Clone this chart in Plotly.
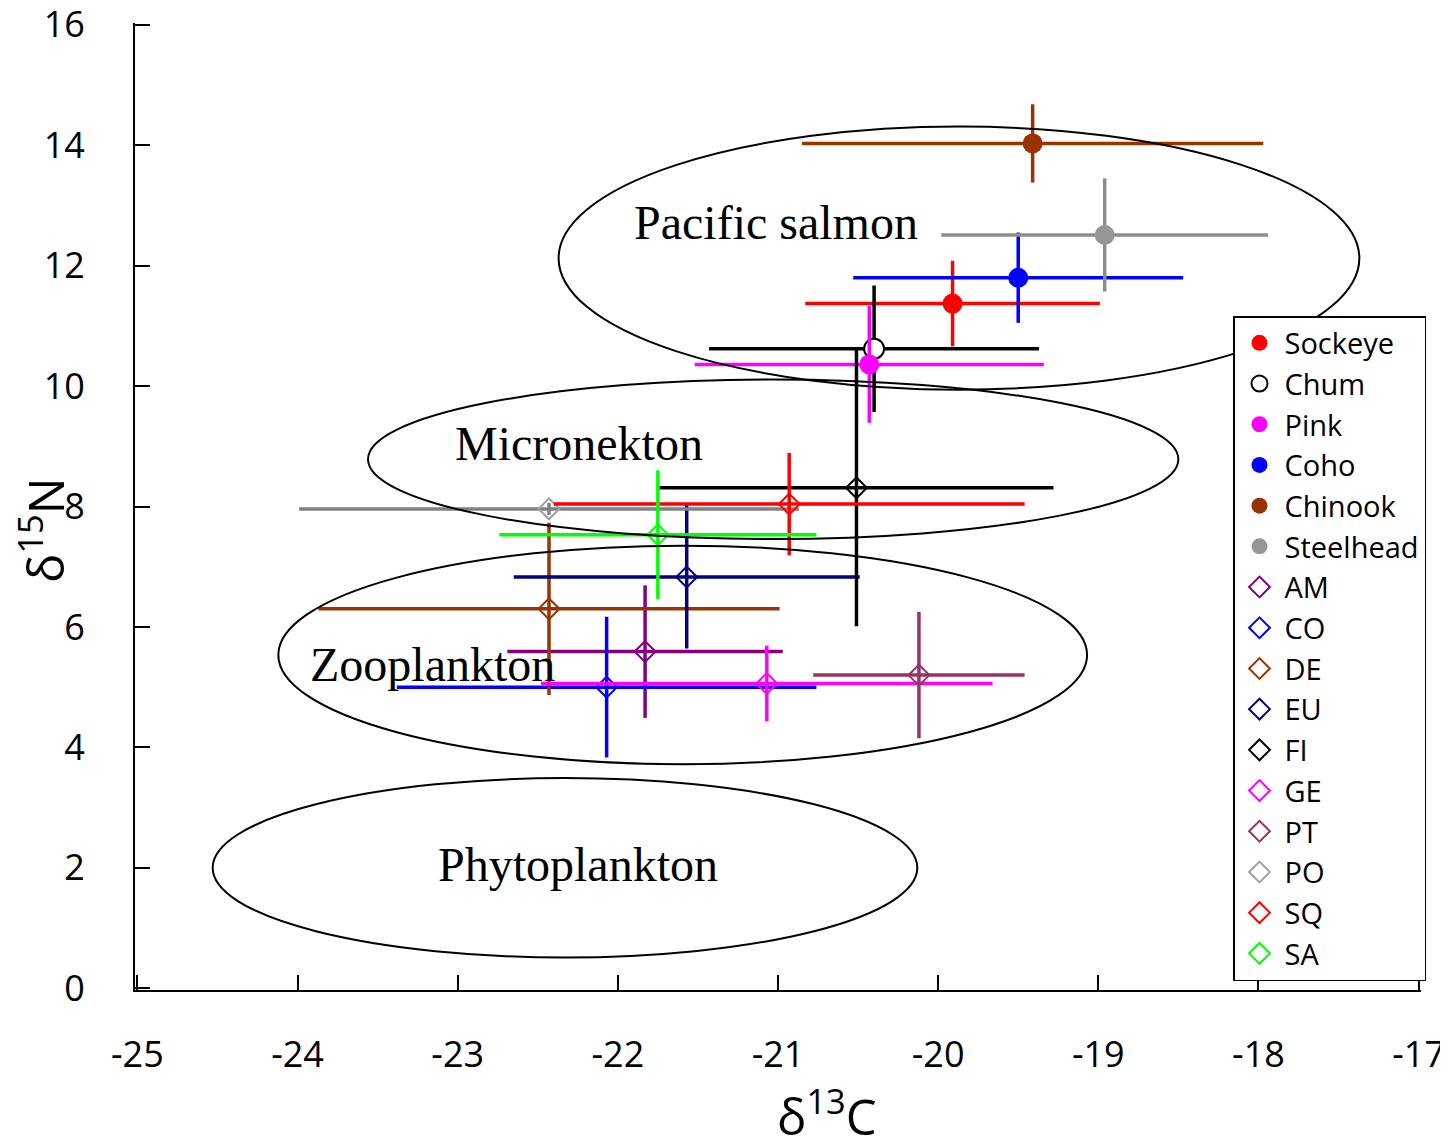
import plotly.graph_objects as go

# ---- data ----
groups = ["Sockeye", "Chum", "Pink", "Coho", "Chinook", "Steelhead",
          "AM", "CO", "DE", "EU", "FI", "GE", "PT", "PO", "SQ", "SA"]
d13c = [-19.91, -20.40, -20.43, -19.50, -19.41, -18.96,
        -21.83, -22.07, -22.43, -21.57, -20.51, -21.07, -20.12, -22.43, -20.93, -21.75]
d15n = [11.37, 10.62, 10.36, 11.80, 14.03, 12.51,
        5.59, 5.00, 6.30, 6.83, 8.31, 5.06, 5.20, 7.96, 8.04, 7.53]
sd13c = [0.92, 1.03, 1.09, 1.03, 1.44, 1.02,
         0.86, 1.31, 1.44, 1.08, 1.23, 1.41, 0.66, 1.56, 1.47, 0.99]
sd15n = [0.71, 1.05, 0.97, 0.75, 0.65, 0.94,
         1.10, 1.17, 1.43, 1.19, 2.30, 0.63, 1.05, 0.10, 0.85, 1.07]
is_salmon = [True] * 6 + [False] * 10

colors = ["#FF0000", "#000000", "#FF00FF", "#0000FF", "#993300", "#969696",
          "#800080", "#0000FF", "#993300", "#000080", "#000000", "#FF00FF",
          "#993366", "#A0A0A0", "#FF0000", "#00FF00"]
bar_colors = ["#FF0000", "#000000", "#FF00FF", "#0000FF", "#993300", "#8C8C8C",
              "#800080", "#0000FF", "#993300", "#000080", "#000000", "#FF00FF",
              "#993366", "#808080", "#FF0000", "#00FF00"]

zones = ["Pacific salmon", "Micronekton", "Zooplankton", "Phytoplankton"]
zone_x0 = [-22.37, -23.56, -24.12, -24.53]
zone_x1 = [-17.37, -18.50, -19.07, -20.13]
zone_y0 = [9.94, 7.46, 3.72, 0.51]
zone_y1 = [14.31, 10.11, 7.35, 3.49]
zone_lx = [-21.01, -22.24, -23.16, -22.25]
zone_ly = [12.71, 9.05, 5.38, 2.05]

x_ticks = [-25, -24, -23, -22, -21, -20, -19, -18, -17]
y_ticks = [0, 2, 4, 6, 8, 10, 12, 14, 16]

SANS = "Open Sans, Lato, sans-serif"

fig = go.Figure()

for i, g in enumerate(groups):
    if is_salmon[i]:
        fill = "#FFFFFF" if g == "Chum" else colors[i]
        marker = dict(symbol="circle", size=20, color=fill,
                      line=dict(color=colors[i], width=2 if g == "Chum" else 0))
    else:
        marker = dict(symbol="diamond-open", size=16, color=colors[i],
                      line=dict(color=colors[i], width=2))
    fig.add_trace(go.Scatter(
        x=[d13c[i]], y=[d15n[i]], mode="markers", name=g,
        marker=marker,
        error_x=dict(type="data", array=[sd13c[i]], color=bar_colors[i],
                     thickness=3.5, width=0),
        error_y=dict(type="data", array=[sd15n[i]], color=bar_colors[i],
                     thickness=3.5, width=0),
    ))

for i, z in enumerate(zones):
    fig.add_shape(type="circle", xref="x", yref="y",
                  x0=zone_x0[i], x1=zone_x1[i], y0=zone_y0[i], y1=zone_y1[i],
                  line=dict(color="black", width=2), layer="above")
    fig.add_annotation(x=zone_lx[i], y=zone_ly[i], text=z, showarrow=False,
                       font=dict(family="Liberation Serif", size=48, color="black"))

# axis titles as paper annotations
fig.add_annotation(xref="paper", yref="paper", x=(827 - 135) / 1286, y=(990 - 1113) / 967,
                   text="δ<sup>13</sup>C", showarrow=False, xanchor="center", yanchor="middle",
                   font=dict(family=SANS, size=49, color="black"))
fig.add_annotation(xref="paper", yref="paper", x=(42 - 135) / 1286, y=(990 - 530) / 967,
                   text="δ<sup>15</sup>N", showarrow=False, xanchor="center", yanchor="middle",
                   textangle=-90, font=dict(family=SANS, size=49, color="black"))

tick_font = dict(family=SANS, size=36, color="black")

# the page body adds an 8 px offset, so the figure is 8 px smaller and margins shifted
fig.update_layout(
    width=1440, height=1131,
    paper_bgcolor="white", plot_bgcolor="white",
    margin=dict(l=127, r=27, t=15, b=149, autoexpand=False),
    showlegend=True,
    legend=dict(x=(1233 - 135) / 1286, y=(990 - 316) / 967, xanchor="left", yanchor="top",
                bgcolor="white", bordercolor="black", borderwidth=1.5,
                font=dict(family=SANS, size=29, color="black"),
                itemwidth=40, tracegroupgap=0, itemsizing="trace"),
    xaxis=dict(range=[-25.015, -16.985], tickvals=x_ticks, ticktext=[str(v) for v in x_ticks],
               showgrid=False, zeroline=False, showline=True, linecolor="black",
               linewidth=2, ticks="inside", ticklen=15, tickwidth=1.5, tickcolor="black",
               tickfont=tick_font, ticklabelstandoff=32, automargin=False,
               ticklabeloverflow="allow"),
    yaxis=dict(range=[-0.03, 16.03], tickvals=y_ticks, ticktext=[str(v) for v in y_ticks],
               showgrid=False, zeroline=False, showline=True, linecolor="black",
               linewidth=2, ticks="inside", ticklen=15, tickwidth=1.5, tickcolor="black",
               tickfont=tick_font, ticklabelstandoff=41, automargin=False,
               ticklabeloverflow="allow"),
)

fig.write_html("out.html")
